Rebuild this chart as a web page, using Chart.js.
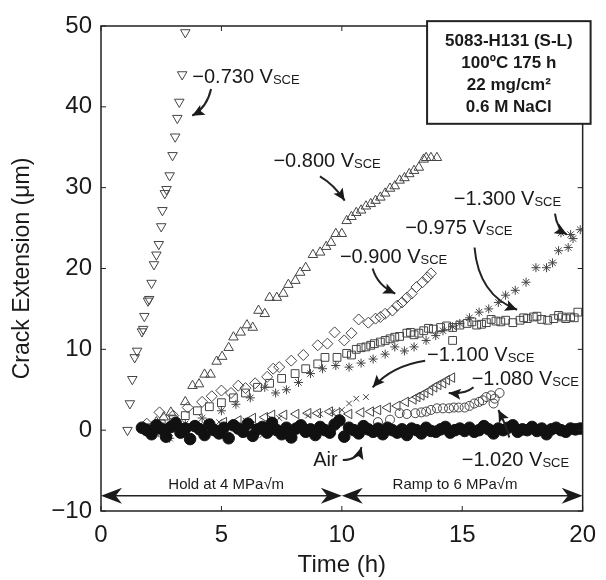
<!DOCTYPE html>
<html lang="en">
<head>
<meta charset="UTF-8">
<title>Crack extension vs time</title>
<script src="https://cdn.jsdelivr.net/npm/chart.js@4.4.0/dist/chart.umd.min.js"></script>
<style>
  html, body { margin: 0; padding: 0; background: #fff; }
</style>
</head>
<body>
<canvas id="crackChart" width="606" height="580"></canvas>
<script>
// crack extension (um) against time (h), one pair of arrays per potential
const t730 = [1.1,1.2,1.3,1.4,1.5,1.7,1.75,1.8,1.95,2.0,2.1,2.2,2.3,2.4,2.5,2.55,2.65,2.72,2.85,2.97,3.08,3.17,3.25,3.37,3.5];
const v730 = [0,3.3,6.3,9,9.8,12.2,12.5,14.1,16,16.2,18.2,20.5,21.7,23,25.2,27.2,29.3,29.8,31.5,34,36.3,38.6,40.6,44,49.2];

const t800 = [2.3,2.6,2.9,3.5,3.8,4.07,4.3,4.55,4.8,5.03,5.3,5.5,5.8,6.06,6.3,6.54,6.8,7.0,7.3,7.57,7.78,8.07,8.27,8.5,8.8,9.1,9.35,9.55,9.75,10.0,10.2,10.4,10.6,10.8,11.0,11.2,11.4,11.6,11.8,12.0,12.2,12.4,12.6,12.8,13.0,13.2,13.4,13.5,13.7,13.95];
const v800 = [1.0,1.6,2.2,3.5,5.5,5.7,6.9,6.9,8.5,9.1,10.2,11.5,12.1,13,12.7,14.8,14.4,16.4,16.4,16.9,18,18.5,19.5,20.1,21.7,22,22.7,23.2,24.3,24.3,25.9,26.4,26.9,27.2,27.7,28,28.4,28.8,29.3,29.9,30.2,30.9,31.2,31.7,32.1,32.5,33.5,33.7,33.7,33.7];

const t900 = [1.9,2.43,3.0,3.6,4.2,4.6,5.0,5.4,5.7,6.0,6.4,6.9,7.15,7.4,7.9,8.4,9.0,9.4,9.7,10.1,10.4,10.7,11.1,11.4,11.6,11.8,12.1,12.3,12.5,12.7,12.9,13.1,13.35,13.55,13.7];
const v900 = [0.8,2.2,1.8,2.8,3.5,4.2,4.9,4.6,5.5,5.2,5.8,6.6,7.6,7.8,8.6,9.3,10.5,10.7,12.1,11.1,12,13.7,13.3,13.8,14,14.4,14.8,15.4,15.8,16.4,16.9,17.7,18.3,18.9,19.4];

const t975 = [2.0,2.5,3.0,3.5,4.0,4.5,5.0,5.5,6.0,6.5,7.0,7.5,8.06,8.5,9.0,9.3,9.8,10.2,10.6,11.0,11.35,11.8,12.2,12.7,13.0,13.4,13.8,14.1,14.6,14.6,15.2,15.6,16.0,16.4,16.8,17.1,17.4,17.7,17.95,18.3,18.8,19.0,19.3,19.5,19.8,
  10.4,10.8,11.2,11.6,12.0,12.4,12.85,13.2,13.6,14.35,14.9,15.4,15.8,16.2,16.6,17.55,18.1,18.55,19.15,19.65];
const v975 = [0.3,0.8,1.3,1.8,2.4,2.9,3.4,4.0,4.6,5.3,5.8,6.4,7.0,7.6,8.2,9,9,9.5,10.0,10.3,10.7,11.1,11.5,12,11.8,12.3,12.5,12.7,12.7,11.1,13.2,13.0,13.3,13.5,13.6,13.3,13.6,13.8,14,13.7,13.8,14.2,13.8,14.0,14.6,
  9.3,10.2,10.5,10.9,11.3,11.6,12.1,12.0,12.6,12.9,13.0,13.4,13.1,13.7,13.4,13.9,14.1,13.6,14.0,13.9];

const t1300 = [2.0,2.4,2.85,3.5,4.2,5.0,5.6,6.2,6.8,7.25,7.7,8.2,8.7,9.2,9.75,10.3,10.8,11.3,11.8,12.2,12.6,13.0,13.5,13.9,14.2,14.6,14.9,15.3,15.7,16.1,16.5,16.8,17.2,17.65,18.06,18.5,18.75,19.0,19.1,19.4,19.5,19.6,19.9];
const v1300 = [0.2,-0.3,-1,0.8,1.5,2.4,3.2,4.0,5.3,4.6,5.0,5.9,7,7.6,8.0,7.8,8.3,8.8,9.4,10.3,9.8,10.3,11.1,11.7,12.3,12.8,13.2,13.9,14.6,15,15.8,16.7,17.3,18.3,20.1,20.1,20.7,22.2,24.4,22.6,24.2,23.7,24.8];

const t1100 = [2.5,3.3,4.1,4.9,5.3,6.0,6.7,7.4,8.0,8.6,9.1,9.6,10.0,10.3,10.6,11.0];
const v1100 = [0.3,-0.4,0.6,1.0,-0.9,1.2,-0.6,1.5,-0.9,1.8,2.0,2.3,2.5,3.3,3.9,4.1];

const t1080 = [4.5,5.1,5.7,6.3,6.8,7.1,7.6,8.1,8.6,9.0,9.5,9.8,10.3,10.8,11.2,11.5,11.9,12.3,12.65,12.97,13.13,13.3,13.46,13.66,13.83,14.0,14.2,14.36,14.57];
const v1080 = [0.8,1.0,1.2,1.5,1.6,1.9,1.9,2.0,2.1,2.1,2.3,2.1,2.0,2.2,2.3,2.5,2.8,3.0,3.5,3.8,4.1,4.3,4.6,4.9,5.3,5.6,5.8,6.2,6.5];

const t1020 = [11.5,12.0,12.4,12.7,13.05,13.3,13.5,13.7,13.95,14.2,14.45,14.65,14.85,15.1,15.3,15.5,15.7,15.85,16.0,16.2,16.3,16.35,16.55];
const v1020 = [1.0,1.3,2.1,2.0,2.1,2.2,2.3,2.5,2.7,2.7,2.7,2.8,2.8,2.8,3.0,3.3,3.5,3.7,4.1,4.3,3.3,3.9,4.6];

const tAir = [1.7,1.9,2.1,2.3,2.5,2.7,2.9,3.1,3.3,3.5,3.7,3.9,4.1,4.3,4.5,4.7,4.9,5.1,5.3,5.5,5.7,5.9,6.1,6.3,6.5,6.7,6.9,7.1,7.3,7.5,7.7,7.9,8.1,8.3,8.5,8.7,8.9,9.1,9.3,9.5,9.7,9.9,10.1,10.3,10.5,10.7,10.9,11.1,11.3,11.5,11.7,11.9,12.1,12.3,12.5,12.7,12.9,13.1,13.3,13.5,13.7,13.9,14.1,14.3,14.5,14.7,14.9,15.1,15.3,15.5,15.7,15.9,16.1,16.3,16.5,16.7,16.9,17.1,17.3,17.5,17.7,17.9,18.1,18.3,18.5,18.7,18.9,19.1,19.3,19.5,19.7,19.9];
const vAir = [0.3,0.0,-0.5,0.6,0.2,-0.8,0.4,0.9,-0.3,0.2,-1.1,0.5,0.1,-0.6,0.7,0.0,-0.4,0.3,-1.0,0.6,0.2,-0.2,0.8,-0.7,0.1,0.4,-0.3,0.9,0.0,-0.5,0.3,-0.9,0.2,0.6,-0.2,0.1,-0.6,0.4,0.0,-0.3,0.7,1.2,-0.8,0.3,0.0,-0.4,0.5,0.1,-0.2,0.2,-0.5,0.3,0.0,-0.3,0.1,-0.6,0.2,0.0,-0.4,0.3,-0.1,-0.2,0.1,0.4,-0.3,0.0,0.2,-0.1,0.3,-0.2,0.0,0.5,0.1,-0.4,0.2,0.0,0.3,0.6,-0.2,0.1,0.0,0.4,-0.1,0.2,-0.5,0.1,0.3,0.0,-0.2,0.2,0.1,0.2];

const FONT = "'Liberation Sans', Arial, Helvetica, sans-serif";
const INK = '#1a1a1a';
const MARK = '#444';

// labels and arrows, placed in data units (time h, extension um)
const notes = [
  { text: '\u22120.730 V', sub: 'SCE', t: 3.79, v: 42.9 },
  { text: '\u22120.800 V', sub: 'SCE', t: 7.16, v: 32.5 },
  { text: '\u22121.300 V', sub: 'SCE', t: 14.65, v: 27.8 },
  { text: '\u22120.975 V', sub: 'SCE', t: 12.63, v: 24.3 },
  { text: '\u22120.900 V', sub: 'SCE', t: 9.92, v: 20.7 },
  { text: '\u22121.100 V', sub: 'SCE', t: 13.54, v: 8.6 },
  { text: '\u22121.080 V', sub: 'SCE', t: 15.39, v: 5.6 },
  { text: '\u22121.020 V', sub: 'SCE', t: 14.98, v: -4.4 },
  { text: 'Air', sub: '', t: 8.81, v: -4.4 }
];
// [start, control, end] for each curved pointer
const pointers = [
  [[4.57, 42.2], [4.40, 39.9], [3.79, 38.9]],
  [[9.09, 31.4], [9.67, 30.4], [10.12, 28.4]],
  [[18.85, 26.8], [18.93, 24.9], [19.34, 24.2]],
  [[15.51, 22.6], [15.68, 16.7], [17.28, 14.9]],
  [[11.28, 20.0], [11.48, 17.9], [12.22, 16.9]],
  [[13.46, 8.6], [12.1, 8.0], [11.28, 5.3]],
  [[15.47, 5.3], [15.1, 4.4], [14.44, 4.6]],
  [[16.95, -0.9], [16.83, 0.6], [16.5, 2.5]],
  [[10.04, -3.7], [10.66, -3.7], [10.82, -2.1]]
];
const boxLines = ['5083-H131 (S-L)', '100\u00baC 175 h', '22 mg/cm\u00b2', '0.6 M NaCl'];

function pts(ts, vs) {
  return ts.map((t, i) => ({ x: t, y: vs[i] }));
}

function head(ctx, x, y, ang, len, half, notch) {
  const c = Math.cos(ang), s = Math.sin(ang);
  ctx.beginPath();
  ctx.moveTo(x, y);
  ctx.lineTo(x - len * c - half * s, y - len * s + half * c);
  ctx.lineTo(x - len * notch * c, y - len * notch * s);
  ctx.lineTo(x - len * c + half * s, y - len * s - half * c);
  ctx.closePath();
  ctx.fill();
}

const extras = {
  id: 'extras',
  afterDraw(chart) {
    const ctx = chart.ctx;
    const xs = chart.scales.x, ys = chart.scales.y;
    const a = chart.chartArea;
    const px = t => xs.getPixelForValue(t);
    const py = v => ys.getPixelForValue(v);
    ctx.save();
    ctx.strokeStyle = '#222';
    ctx.fillStyle = INK;

    // frame and inward ticks
    ctx.lineWidth = 1.5;
    ctx.strokeRect(a.left, a.top, a.right - a.left, a.bottom - a.top);
    ctx.lineWidth = 1;
    ctx.beginPath();
    xs.ticks.forEach(tk => {
      const x = px(tk.value);
      ctx.moveTo(x, a.bottom); ctx.lineTo(x, a.bottom - 5);
      ctx.moveTo(x, a.top); ctx.lineTo(x, a.top + 5);
    });
    ys.ticks.forEach(tk => {
      const y = py(tk.value);
      ctx.moveTo(a.left, y); ctx.lineTo(a.left + 5, y);
      ctx.moveTo(a.right, y); ctx.lineTo(a.right - 5, y);
    });
    ctx.stroke();

    // loading stages along the bottom
    const yb = py(-8.1);
    ctx.lineWidth = 1.5;
    [[0, 10], [10, 20]].forEach(([t0, t1]) => {
      const x0 = px(t0), x1 = px(t1);
      ctx.beginPath();
      ctx.moveTo(x0 + 10, yb); ctx.lineTo(x1 - 10, yb);
      ctx.stroke();
      head(ctx, x0, yb, Math.PI, 21, 8, 0.7);
      head(ctx, x1, yb, 0, 21, 8, 0.7);
    });
    ctx.font = '15px ' + FONT;
    ctx.textAlign = 'center';
    ctx.textBaseline = 'alphabetic';
    ctx.fillText('Hold at 4 MPa\u221Am', px(5.2), py(-7.3));
    ctx.fillText('Ramp to 6 MPa\u221Am', px(14.7), py(-7.3));

    // potential labels
    ctx.textAlign = 'left';
    notes.forEach(n => {
      const x = px(n.t), y = py(n.v);
      ctx.font = '20px ' + FONT;
      ctx.fillText(n.text, x, y);
      if (n.sub) {
        const w = ctx.measureText(n.text).width;
        ctx.font = '13px ' + FONT;
        ctx.fillText(n.sub, x + w, y + 1);
      }
    });

    // curved pointers
    ctx.lineWidth = 2;
    pointers.forEach(([s, c, e]) => {
      const sx = px(s[0]), sy = py(s[1]);
      const cx = px(c[0]), cy = py(c[1]);
      const ex = px(e[0]), ey = py(e[1]);
      ctx.beginPath();
      ctx.moveTo(sx, sy);
      ctx.quadraticCurveTo(cx, cy, ex, ey);
      ctx.stroke();
      head(ctx, ex, ey, Math.atan2(ey - cy, ex - cx), 12, 5.5, 0.8);
    });

    // condition box
    const bl = px(13.54), br = px(20.33), bt = py(50.6), bb = py(37.9);
    ctx.fillStyle = '#fff';
    ctx.fillRect(bl, bt, br - bl, bb - bt);
    ctx.lineWidth = 2;
    ctx.strokeRect(bl, bt, br - bl, bb - bt);
    ctx.fillStyle = INK;
    ctx.font = 'bold 17px ' + FONT;
    ctx.textAlign = 'center';
    [47.5, 44.8, 42.1, 39.3].forEach((v, i) => ctx.fillText(boxLines[i], (bl + br) / 2, py(v)));

    ctx.restore();
  }
};

const open = 'rgba(0,0,0,0)';
new Chart(document.getElementById('crackChart'), {
  type: 'scatter',
  data: {
    datasets: [
      { label: 'Air', data: pts(tAir, vAir), pointStyle: 'circle', pointRadius: 5.8, backgroundColor: '#111', borderColor: '#111', borderWidth: 1 },
      { label: '-0.730', data: pts(t730, v730), pointStyle: 'triangle', pointRotation: 180, pointRadius: 5.5, backgroundColor: open, borderColor: MARK, borderWidth: 1 },
      { label: '-0.800', data: pts(t800, v800), pointStyle: 'triangle', pointRadius: 5.5, backgroundColor: open, borderColor: MARK, borderWidth: 1 },
      { label: '-0.900', data: pts(t900, v900), pointStyle: 'rectRot', pointRadius: 5.5, backgroundColor: open, borderColor: MARK, borderWidth: 1 },
      { label: '-0.975', data: pts(t975, v975), pointStyle: 'rect', pointRadius: 5.5, backgroundColor: open, borderColor: MARK, borderWidth: 1 },
      { label: '-1.300', data: pts(t1300, v1300), pointStyle: 'star', pointRadius: 4.5, backgroundColor: open, borderColor: MARK, borderWidth: 1 },
      { label: '-1.100', data: pts(t1100, v1100), pointStyle: 'crossRot', pointRadius: 4, backgroundColor: open, borderColor: MARK, borderWidth: 1 },
      { label: '-1.080', data: pts(t1080, v1080), pointStyle: 'triangle', pointRotation: 270, pointRadius: 5.5, backgroundColor: open, borderColor: MARK, borderWidth: 1 },
      { label: '-1.020', data: pts(t1020, v1020), pointStyle: 'circle', pointRadius: 4.5, backgroundColor: open, borderColor: MARK, borderWidth: 1 }
    ]
  },
  options: {
    responsive: false,
    animation: false,
    layout: { padding: { top: 26, right: 17, left: 0, bottom: 0 } },
    plugins: { legend: { display: false }, tooltip: { enabled: false } },
    scales: {
      x: {
        type: 'linear', min: 0, max: 20,
        ticks: { stepSize: 5, padding: 10, maxRotation: 0, color: INK, font: { size: 24, family: FONT } },
        grid: { display: false, drawTicks: false },
        border: { display: false },
        title: { display: true, text: 'Time (h)', color: INK, font: { size: 24, family: FONT }, padding: { top: 0, bottom: 0 } },
        afterFit(s) { s.height = 69; }
      },
      y: {
        min: -10, max: 50,
        ticks: { stepSize: 10, padding: 9, color: INK, font: { size: 24, family: FONT },
          callback: v => String(v).replace('-', '\u2212') },
        grid: { display: false, drawTicks: false },
        border: { display: false },
        title: { display: true, text: 'Crack Extension (\u03bcm)', color: INK, font: { size: 23, family: FONT }, padding: { top: 9, bottom: 0 } },
        afterFit(s) { s.width = 101; }
      }
    }
  },
  plugins: [extras]
});
</script>
</body>
</html>
